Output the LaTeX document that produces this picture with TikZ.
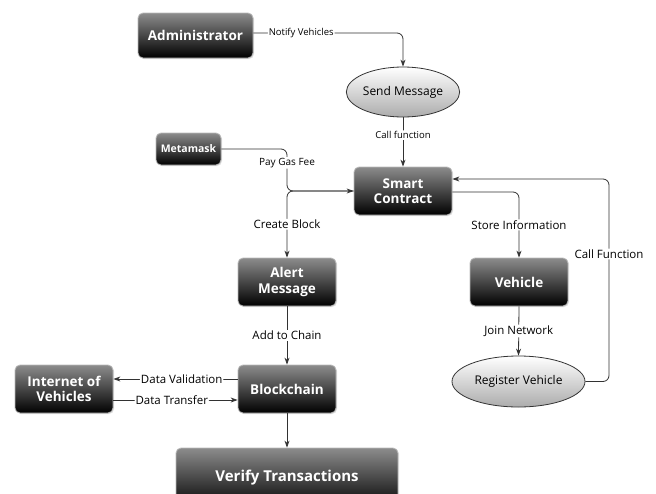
\documentclass[tikz,border=0pt]{standalone}
\usepackage{fontspec}
\setmainfont{Open Sans}
\usetikzlibrary{shapes.geometric,arrows.meta,shadows}
\definecolor{boxtop}{RGB}{140,140,140}
\definecolor{linec}{RGB}{50,50,50}
\tikzset{
  box/.style={draw=gray!55, line width=0.8pt, rounded corners=5pt,
    top color=boxtop, bottom color=black, text=white,
    font=\bfseries\fontsize{13.5}{15.5}\selectfont, align=center, inner sep=0pt,
    drop shadow={shadow xshift=1pt, shadow yshift=-1pt, opacity=0.25}},
  oval/.style={ellipse, draw=black!80, line width=0.8pt,
    top color=white, bottom color=gray!65, inner sep=0pt,
    font=\fontsize{12}{14}\selectfont, text=black},
  conn/.style={draw=linec, line width=0.8pt, rounded corners=6pt,
    -{Stealth[length=7pt,width=5pt]}},
  lbl/.style={fill=white, inner sep=1pt, text=black,
    font=\fontsize{11.5}{13}\selectfont},
  slbl/.style={lbl, font=\fontsize{9.5}{11}\selectfont},
}
\begin{document}
\begin{tikzpicture}[x=1pt,y=-1pt]
\clip (0,0) rectangle (656,493);
\useasboundingbox (0,0) rectangle (656,493);
\fill[white] (0,0) rectangle (656,493);
% nodes
\node[box, minimum width=115pt, minimum height=45pt] (admin) at (195.5,35.5) {Administrator};
\node[oval, minimum width=102pt, minimum height=50pt] (send) at (403,92) {Send Message};
\node[box, minimum width=65pt, minimum height=32pt, font=\bfseries\fontsize{10.5}{12}\selectfont] (meta) at (188.5,149) {Metamask};
\node[box, minimum width=98pt, minimum height=48pt] (sc) at (403,191) {Smart\\Contract};
\node[box, minimum width=98pt, minimum height=48pt] (am) at (287,282) {Alert\\Message};
\node[box, minimum width=98pt, minimum height=48pt] (veh) at (519,282) {Vehicle};
\node[oval, minimum width=133pt, minimum height=51pt] (reg) at (518.5,381.5) {Register Vehicle};
\node[box, minimum width=98pt, minimum height=48pt] (bc) at (287,389) {Blockchain};
\node[box, minimum width=98pt, minimum height=48pt] (iov) at (64,389) {Internet of\\Vehicles};
\node[box, minimum width=222pt, minimum height=62pt, font=\bfseries\fontsize{15}{17}\selectfont, text depth=0pt] (ver) at (287,479) {\raisebox{6pt}{Verify Transactions}};
% connectors
\draw[conn] (admin.east |- 0,33) -- node[slbl, pos=0.32] {Notify Vehicles} (send.north |- 0,33) -- (send.north);
\draw[conn] (send.south) -- node[slbl, pos=0.36] {Call function} (sc.north);
\draw[conn] (meta.east) -- (287,149) -- node[lbl, pos=0.33, font=\fontsize{10}{12}\selectfont] {Pay Gas Fee} (287,191) -- (sc.west |- 0,191);
\draw[conn] (sc.west |- 0,191) -- (287,191) -- node[lbl] {Create Block} (am.north);
\draw[conn] (sc.east |- 0,192) -- (519,192) -- node[lbl] {Store Information} (veh.north);
\draw[conn] (reg.east) -- (609,381.5) -- node[lbl, pos=0.63] {Call Function} (609,179) -- (sc.east |- 0,179);
\draw[conn] (veh.south) -- node[lbl] {Join Network} (reg.north);
\draw[conn] (am.south) -- node[lbl] {Add to Chain} (bc.north);
\draw[conn] (bc.west |- 0,379) -- node[lbl, pos=0.45] {Data Validation} (iov.east |- 0,379);
\draw[conn] (iov.east |- 0,400) -- node[lbl, pos=0.47] {Data Transfer} (bc.west |- 0,400);
\draw[conn] (bc.south) -- (ver.north);
\end{tikzpicture}
\end{document}
